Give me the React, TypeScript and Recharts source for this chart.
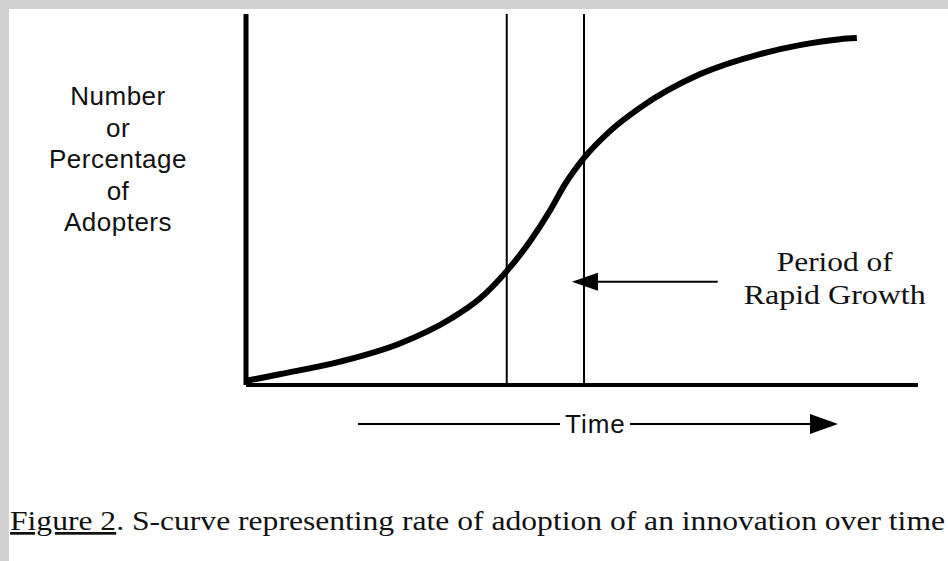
import { ComposedChart, Line, XAxis, YAxis, ReferenceLine } from "recharts";

// S-curve: time (0-100) vs share of adopters (0-100)
const time = [0, 5, 14, 22.9, 30.4, 34.8, 38.8, 42.3, 45.2, 47.5, 50.3, 54.2, 58.6, 67.6, 76.5, 82.4, 88.4, 90.9];
const adopters = [1.1, 2.9, 6.3, 11.2, 17.8, 23.3, 30.7, 38.8, 46.9, 54.2, 61.2, 68.5, 74.7, 83.8, 89.2, 91.6, 93.2, 93.5];

// boundaries of the rapid-growth period
const rapidStart = 38.8;
const rapidEnd = 50.3;
const arrowLevel = 27.8;
const arrowFrom = 70.2;

const yLabelLines = ["Number", "or", "Percentage", "of", "Adopters"];
const noteLines = ["Period of", "Rapid Growth"];
const noteWidths = [116, 182];
const caption = "S-curve representing rate of adoption of an innovation over time";

const data = time.map((t, i) => ({ t, v: adopters[i] }));

const sans = "'Liberation Sans', Arial, sans-serif";
const serif = "'Liberation Serif', 'Times New Roman', serif";

function YLabel(props: any) {
  const vb = props.viewBox || { x: 0, y: 14 };
  const cx = vb.x + 118;
  return (
    <g>
      {yLabelLines.map((s, i) => (
        <text key={s} x={cx} y={105 + i * 31.5} textAnchor="middle" fontFamily={sans} fontSize={26} letterSpacing={0.5} fill="#111">
          {s}
        </text>
      ))}
    </g>
  );
}

function TimeLabel(props: any) {
  const vb = props.viewBox || { x: 246, y: 385 };
  const x0 = vb.x;
  const y = vb.y + 39;
  return (
    <g>
      <line x1={x0 + 112} x2={x0 + 314} y1={y} y2={y} stroke="#000" strokeWidth={2} />
      <text x={x0 + 319} y={y + 9} fontFamily={sans} fontSize={26} letterSpacing={1} fill="#111">Time</text>
      <line x1={x0 + 384} x2={x0 + 566} y1={y} y2={y} stroke="#000" strokeWidth={2} />
      <polygon points={`${x0 + 592},${y} ${x0 + 564},${y - 10} ${x0 + 564},${y + 10}`} fill="#000" />
      <text x={10} y={530} fontFamily={serif} fontSize={27} fill="#111" textLength={935} lengthAdjust="spacingAndGlyphs">
        <tspan textDecoration="underline">Figure 2</tspan>
        <tspan>. {caption}</tspan>
      </text>
    </g>
  );
}

function PeriodArrow(props: any) {
  const { x1, x2, y1 } = props;
  const tip = Math.min(x1, x2);
  const end = Math.max(x1, x2);
  const y = y1;
  return (
    <g>
      <line x1={tip + 24} x2={end} y1={y} y2={y} stroke="#000" strokeWidth={2} />
      <polygon points={`${tip},${y} ${tip + 26},${y - 9} ${tip + 26},${y + 9}`} fill="#000" />
      {noteLines.map((s, i) => (
        <text
          key={s}
          x={end + 117 - noteWidths[i] / 2}
          y={y - 11 + i * 33}
          fontFamily={serif}
          fontSize={27}
          fill="#111"
          textLength={noteWidths[i]}
          lengthAdjust="spacingAndGlyphs"
        >
          {s}
        </text>
      ))}
    </g>
  );
}

export default function App() {
  return (
    <div style={{ position: "absolute", left: 0, top: 0, width: 948, height: 561, background: "#d2d2d2", overflow: "hidden" }}>
      <div style={{ position: "absolute", left: 9, top: 9, right: 0, bottom: 0, background: "#fff" }} />
      <div style={{ position: "absolute", left: 0, top: 0 }}>
        <ComposedChart width={948} height={561} data={data} margin={{ top: 14, right: 30, left: 0, bottom: 0 }}>
          <XAxis
            dataKey="t"
            type="number"
            domain={[0, 100]}
            allowDataOverflow
            height={176}
            tick={false}
            tickLine={false}
            axisLine={{ stroke: "#000", strokeWidth: 4 }}
            label={{ content: (p: any) => <TimeLabel {...p} /> }}
          />
          <YAxis
            type="number"
            domain={[0, 100]}
            allowDataOverflow
            width={246}
            tick={false}
            tickLine={false}
            axisLine={{ stroke: "#000", strokeWidth: 5 }}
            label={{ content: (p: any) => <YLabel {...p} /> }}
          />
          <ReferenceLine x={rapidStart} stroke="#000" strokeWidth={2} />
          <ReferenceLine x={rapidEnd} stroke="#000" strokeWidth={2} />
          <ReferenceLine
            segment={[{ x: rapidEnd - 1.8, y: arrowLevel }, { x: arrowFrom, y: arrowLevel }]}
            ifOverflow="visible"
            shape={(p: any) => <PeriodArrow {...p} />}
          />
          <Line
            dataKey="v"
            type="monotone"
            stroke="#000"
            strokeWidth={6}
            dot={false}
            isAnimationActive={false}
          />
        </ComposedChart>
      </div>
    </div>
  );
}
